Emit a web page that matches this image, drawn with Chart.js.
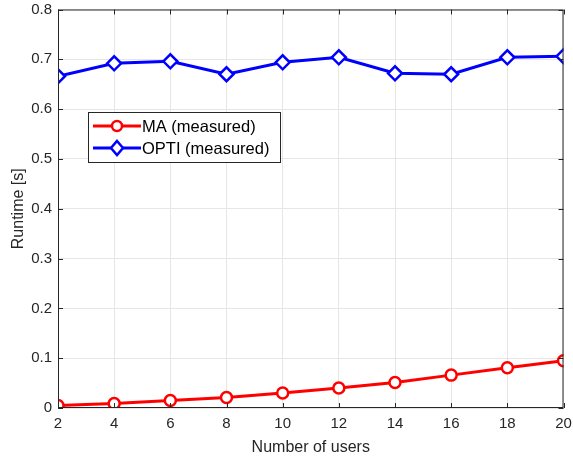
<!DOCTYPE html>
<html>
<head>
<meta charset="utf-8">
<script src="https://cdn.jsdelivr.net/npm/chart.js@4"></script>
<style>
  html, body { margin: 0; padding: 0; background: #fff; }
  #wrap { width: 573px; height: 459px; }
</style>
</head>
<body>
<div id="wrap"><canvas id="grafico"></canvas></div>
<script>
// datos
var usuarios = [2, 4, 6, 8, 10, 12, 14, 16, 18, 20];
var runtimeMA = [0.005, 0.009, 0.015, 0.021, 0.030, 0.040, 0.051, 0.066, 0.081, 0.095];
var runtimeOPTI = [0.666, 0.692, 0.696, 0.670, 0.694, 0.704, 0.672, 0.670, 0.704, 0.706];
var nombres = ['MA (measured)', 'OPTI (measured)'];
var yTicks = [0, 0.1, 0.2, 0.3, 0.4, 0.5, 0.6, 0.7, 0.8];

var fuente = '"Liberation Sans", Arial, sans-serif';
var colorEje = '#262626';

function puntos(ys) {
    return usuarios.map(function (u, i) { return { x: u, y: ys[i] }; });
}

// marco estilo matlab + ticks hacia dentro + leyenda
var marcoPlugin = {
    id: 'marco',
    afterDatasetsDraw: function (chart) {
        var ctx = chart.ctx, a = chart.chartArea;
        var sx = chart.scales.x, sy = chart.scales.y;
        ctx.save();
        ctx.strokeStyle = colorEje;
        ctx.lineWidth = 1;
        ctx.strokeRect(a.left + 0.5, a.top + 0.5, a.right - a.left - 1, a.bottom - a.top - 1);
        ctx.beginPath();
        usuarios.forEach(function (u) {
            var px = Math.round(sx.getPixelForValue(u)) + 0.5;
            ctx.moveTo(px, a.bottom); ctx.lineTo(px, a.bottom - 5);
            ctx.moveTo(px, a.top); ctx.lineTo(px, a.top + 5);
        });
        yTicks.forEach(function (v) {
            var py = Math.round(sy.getPixelForValue(v)) + 0.5;
            ctx.moveTo(a.left, py); ctx.lineTo(a.left + 5, py);
            ctx.moveTo(a.right, py); ctx.lineTo(a.right - 5, py);
        });
        ctx.stroke();

        // leyenda
        var lx = 88, ly = 112, lw = 192, lh = 50;
        ctx.fillStyle = '#fff';
        ctx.fillRect(lx, ly, lw, lh);
        ctx.strokeStyle = colorEje;
        ctx.strokeRect(lx + 0.5, ly + 0.5, lw, lh);
        var ds = chart.data.datasets;
        ds.forEach(function (d, i) {
            var yy = ly + 14 + i * 22;
            ctx.strokeStyle = d.borderColor;
            ctx.lineWidth = 3;
            ctx.beginPath();
            ctx.moveTo(lx + 5, yy); ctx.lineTo(lx + 53, yy);
            ctx.stroke();
            ctx.fillStyle = '#fff';
            ctx.lineWidth = 2.5;
            ctx.beginPath();
            if (d.pointStyle === 'circle') {
                ctx.arc(lx + 29, yy, 5, 0, Math.PI * 2);
            } else {
                ctx.moveTo(lx + 29, yy - 7); ctx.lineTo(lx + 35, yy);
                ctx.lineTo(lx + 29, yy + 7); ctx.lineTo(lx + 23, yy);
                ctx.closePath();
            }
            ctx.fill();
            ctx.stroke();
            ctx.fillStyle = '#000';
            ctx.font = '16.5px ' + fuente;
            ctx.textBaseline = 'middle';
            ctx.textAlign = 'left';
            ctx.fillText(d.label, lx + 54, yy + 1);
        });
        ctx.restore();
    }
};

new Chart(document.getElementById('grafico').getContext('2d'), {
    type: 'line',
    data: {
        datasets: [{
            label: nombres[0],
            data: puntos(runtimeMA),
            borderColor: '#ff0000',
            backgroundColor: '#ffffff',
            borderWidth: 3,
            pointStyle: 'circle',
            pointRadius: 5.5,
            pointBorderWidth: 2.5,
            pointBackgroundColor: '#ffffff'
        }, {
            label: nombres[1],
            data: puntos(runtimeOPTI),
            borderColor: '#0000ff',
            backgroundColor: '#ffffff',
            borderWidth: 3,
            pointStyle: 'rectRot',
            pointRadius: 7,
            pointBorderWidth: 2.5,
            pointBackgroundColor: '#ffffff'
        }]
    },
    options: {
        responsive: true,
        maintainAspectRatio: false,
        animation: false,
        devicePixelRatio: 1,
        layout: { padding: 0 },
        plugins: {
            legend: { display: false },
            tooltip: { enabled: false }
        },
        scales: {
            x: {
                type: 'linear',
                min: 2,
                max: 20,
                afterBuildTicks: function (s) { s.ticks = usuarios.map(function (v) { return { value: v }; }); },
                afterFit: function (s) { s.height = 51; s.paddingLeft = 0; s.paddingRight = 9; },
                grid: { color: '#e6e6e6', drawTicks: false },
                border: { display: false },
                ticks: { color: colorEje, font: { family: fuente, size: 15 }, padding: 7, maxRotation: 0 },
                title: { display: true, text: 'Number of users', color: colorEje, font: { family: fuente, size: 16 }, padding: { top: 0, bottom: 2 } }
            },
            y: {
                min: 0,
                max: 0.8,
                afterBuildTicks: function (s) { s.ticks = yTicks.map(function (v) { return { value: v }; }); },
                afterFit: function (s) { s.width = 58; s.paddingTop = 8; s.paddingBottom = 0; },
                grid: { color: '#e6e6e6', drawTicks: false },
                border: { display: false },
                ticks: {
                    color: colorEje, font: { family: fuente, size: 15 }, padding: 6,
                    callback: function (v) { return v === 0 ? '0' : v.toFixed(1); }
                },
                title: { display: true, text: 'Runtime [s]', color: colorEje, font: { family: fuente, size: 16 }, padding: { top: 9, bottom: 0 } }
            }
        }
    },
    plugins: [marcoPlugin]
});
</script>
</body>
</html>
